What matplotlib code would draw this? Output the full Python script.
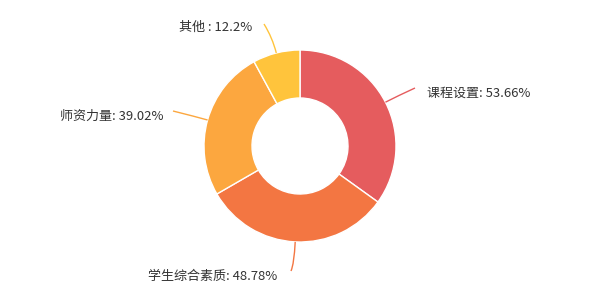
import numpy as np
import matplotlib
matplotlib.use("Agg")
import matplotlib.pyplot as plt
from matplotlib.path import Path
from matplotlib.patches import PathPatch

plt.rcParams['font.family'] = ['Noto Sans CJK SC', 'DejaVu Sans']

categories = ["课程设置", "学生综合素质", "师资力量", "其他"]
values = [53.66, 48.78, 39.02, 12.2]
label_texts = ["课程设置: 53.66%", "学生综合素质: 48.78%", "师资力量: 39.02%", "其他 : 12.2%"]
colors = ["#E55C5E", "#F37642", "#FCA73F", "#FFC43C"]

W, H = 600, 300
cx, cy = 300, 154          # centre in y-up pixel coordinates
R_OUT, R_IN = 96, 48

fig = plt.figure(figsize=(6, 3), dpi=100)
ax = fig.add_axes([0, 0, 1, 1])
ax.set_xlim(0, W)
ax.set_ylim(0, H)
ax.set_aspect('equal')
ax.axis('off')

wedges, _ = ax.pie(values, colors=colors, startangle=90, counterclock=False,
                   center=(cx, cy), radius=R_OUT,
                   wedgeprops=dict(width=R_OUT - R_IN, edgecolor='white', linewidth=1))
ax.set_xlim(0, W)
ax.set_ylim(0, H)

# leader line end points (y-down pixels) and text anchors
line_ends = [(415, 88), (291, 271), (173, 111), (264, 24)]
text_pos = [(427, 93, 'left'), (277, 276, 'right'), (163, 116, 'right'), (252, 27, 'right')]
ctrl_ext = [14, 22, 12, 16]

for w, c, end, tp, ext, txt in zip(wedges, colors, line_ends, text_pos, ctrl_ext, label_texts):
    mid = np.deg2rad((w.theta1 + w.theta2) / 2)
    d = np.array([np.cos(mid), np.sin(mid)])
    p0 = np.array([cx, cy]) + R_OUT * d
    p1 = np.array([cx, cy]) + (R_OUT + ext) * d
    p2 = np.array([end[0], H - end[1]])
    path = Path([p0, p1, p2], [Path.MOVETO, Path.CURVE3, Path.CURVE3])
    ax.add_patch(PathPatch(path, facecolor='none', edgecolor=c, linewidth=1))
    ax.text(tp[0], H - tp[1], txt, ha=tp[2], va='center', fontsize=9.4, color='#333333')

fig.savefig("out.png", dpi=100, facecolor='white')
